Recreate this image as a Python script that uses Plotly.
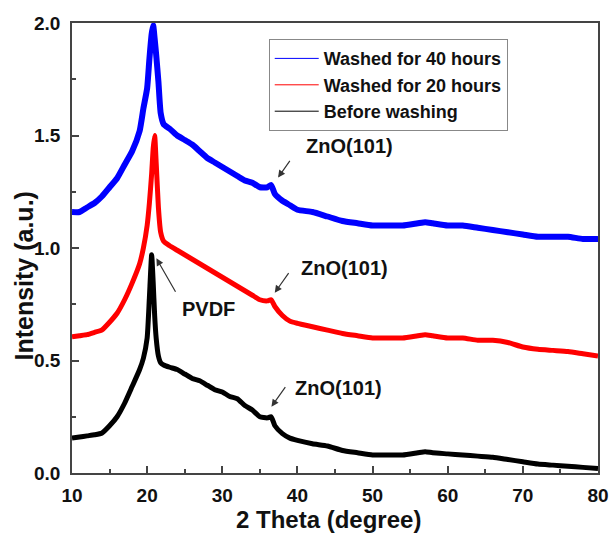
import plotly.graph_objects as go

two_theta = [10, 11, 12, 13, 14, 15, 16, 17, 18, 19, 19.5, 20, 20.3, 20.6, 20.8, 21.0, 21.2, 21.5, 21.8, 22.2,
             23, 24, 25, 26, 27, 28, 29, 30, 31, 32, 33, 34, 35, 36, 36.5, 37, 38, 39, 40,
             42, 44, 46, 48, 50, 52, 54, 56, 57, 58, 60, 62, 64, 66, 68, 70, 72, 74, 76, 78, 80]

washed_40h = [1.16, 1.16, 1.18, 1.20, 1.23, 1.27, 1.31, 1.37, 1.43, 1.52, 1.62, 1.71, 1.84, 1.95, 1.99, 1.93, 1.86, 1.74, 1.60, 1.55,
              1.53, 1.50, 1.48, 1.46, 1.43, 1.40, 1.38, 1.36, 1.34, 1.32, 1.30, 1.29, 1.27, 1.27, 1.28, 1.24, 1.21, 1.19, 1.17,
              1.16, 1.14, 1.12, 1.11, 1.10, 1.10, 1.10, 1.11, 1.115, 1.11, 1.10, 1.10, 1.09, 1.08, 1.07, 1.06, 1.05, 1.05, 1.05, 1.04, 1.04]

washed_20h = [0.605, 0.61, 0.615, 0.625, 0.636, 0.67, 0.71, 0.77, 0.844, 0.93, 1.00, 1.10, 1.20, 1.33, 1.44, 1.50, 1.38, 1.18, 1.07, 1.03,
              1.01, 0.99, 0.97, 0.95, 0.93, 0.91, 0.89, 0.87, 0.85, 0.83, 0.81, 0.79, 0.77, 0.765, 0.77, 0.74, 0.70, 0.675, 0.665,
              0.65, 0.635, 0.62, 0.61, 0.60, 0.60, 0.60, 0.61, 0.615, 0.61, 0.60, 0.60, 0.59, 0.59, 0.58, 0.56, 0.55, 0.545, 0.54, 0.53, 0.52]

before_washing = [0.155, 0.16, 0.165, 0.17, 0.178, 0.21, 0.25, 0.31, 0.384, 0.46, 0.51, 0.60, 0.78, 0.97, 0.85, 0.70, 0.60, 0.52, 0.49, 0.48,
                  0.47, 0.46, 0.44, 0.42, 0.41, 0.39, 0.37, 0.36, 0.34, 0.33, 0.30, 0.28, 0.25, 0.245, 0.25, 0.21, 0.175, 0.155, 0.145,
                  0.13, 0.12, 0.10, 0.09, 0.08, 0.08, 0.08, 0.09, 0.095, 0.09, 0.085, 0.08, 0.075, 0.07, 0.06, 0.05, 0.04, 0.035, 0.03, 0.025, 0.02]

series_names = ["Washed for 40 hours", "Washed for 20 hours", "Before washing"]
series_values = [washed_40h, washed_20h, before_washing]
series_colors = ["#0000ff", "#ff0000", "#000000"]
series_widths = [6, 5, 5]

x_ticks = [10, 20, 30, 40, 50, 60, 70, 80]
y_ticks = [0.0, 0.5, 1.0, 1.5, 2.0]
y_tick_labels = ["0.0", "0.5", "1.0", "1.5", "2.0"]

# annotations: (text, text_x, text_y, arrow_head_x, arrow_head_y, arrow_tail_x, arrow_tail_y)
labels = [
    ("ZnO(101)", 46.9, 1.455, 37.42, 1.313, 39.13, 1.394),
    ("ZnO(101)", 46.25, 0.913, 36.98, 0.801, 38.97, 0.895),
    ("ZnO(101)", 45.52, 0.38, 36.54, 0.295, 38.53, 0.388),
    ("PVDF", 28.1, 0.728, 21.23, 0.954, 23.89, 0.799),
]

FONT = "Arial, Liberation Sans, sans-serif"

fig = go.Figure()
for name, vals, col, w in zip(series_names, series_values, series_colors, series_widths):
    fig.add_trace(go.Scatter(x=two_theta, y=vals, mode="lines", name=name,
                             line=dict(color=col, width=w, shape="spline", smoothing=0.5),
                             showlegend=False, hoverinfo="skip"))
for name, col in zip(series_names, series_colors):
    fig.add_trace(go.Scatter(x=[None], y=[None], mode="lines", name=name,
                             line=dict(color=col, width=1), showlegend=True))

for text, tx, ty, hx, hy, ax_, ay_ in labels:
    fig.add_annotation(x=tx, y=ty, xref="x", yref="y", text=text, showarrow=False,
                       font=dict(family=FONT, size=20, color="#111", weight="bold"))
    fig.add_annotation(x=hx, y=hy, xref="x", yref="y", ax=ax_, ay=ay_, axref="x", ayref="y",
                       text="", showarrow=True, arrowhead=2, arrowsize=1.2, arrowwidth=1.2,
                       arrowcolor="#333")

# axis titles
fig.add_annotation(x=-0.0919, y=0.438, xref="paper", yref="paper", text="Intensity (a.u.)",
                   textangle=-90, showarrow=False, xanchor="center", yanchor="middle",
                   font=dict(family=FONT, size=25, color="#111", weight="bold"))
fig.add_annotation(x=0.4883, y=-0.1044, xref="paper", yref="paper", text="2 Theta (degree)",
                   showarrow=False, xanchor="center", yanchor="middle",
                   font=dict(family=FONT, size=24, color="#111", weight="bold"))

axis_common = dict(showline=True, linecolor="#444", linewidth=1.5, mirror=True,
                   ticks="inside", ticklen=7, tickwidth=1.5, tickcolor="#444",
                   showgrid=False, zeroline=False,
                   tickfont=dict(family=FONT, size=19, color="#111", weight="bold"))

fig.update_xaxes(range=[10, 80], tickvals=x_ticks,
                 minor=dict(ticks="inside", ticklen=4, tickcolor="#444", dtick=5, tick0=10),
                 ticklabelstandoff=4, **axis_common)
fig.update_yaxes(range=[0, 2.0], tickvals=y_ticks, ticktext=y_tick_labels,
                 minor=dict(ticks="inside", ticklen=4, tickcolor="#444", dtick=0.25, tick0=0),
                 ticklabelstandoff=6, **axis_common)

fig.update_layout(
    width=610, height=538,
    margin=dict(l=72, r=12, t=23, b=65, autoexpand=False),
    plot_bgcolor="white", paper_bgcolor="white",
    legend=dict(x=0.374, y=0.964, xanchor="left", yanchor="top",
                bordercolor="#888", borderwidth=1, bgcolor="white",
                font=dict(family=FONT, size=18, color="#111", weight="bold"),
                itemwidth=44, tracegroupgap=0),
)

fig.write_html("out.html")
